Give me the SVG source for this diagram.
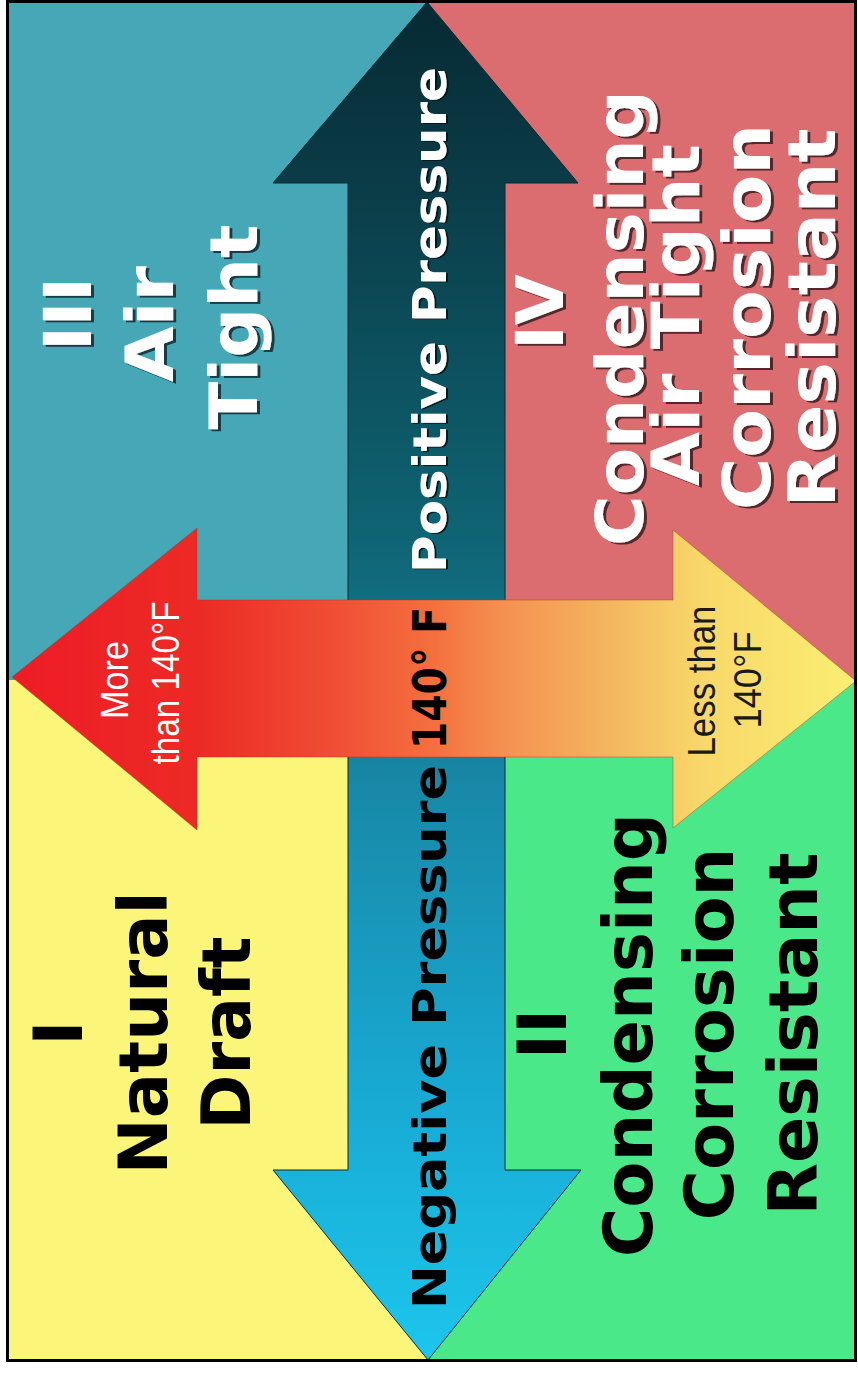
<svg xmlns="http://www.w3.org/2000/svg" width="858" height="1374" viewBox="0 0 858 1374">
  <defs>
    <linearGradient id="gVert" gradientUnits="userSpaceOnUse" x1="0" y1="2" x2="0" y2="1360">
      <stop offset="0" stop-color="#062a33"/>
      <stop offset="0.12" stop-color="#0a3a45"/>
      <stop offset="0.4" stop-color="#0f6575"/>
      <stop offset="0.58" stop-color="#1889a8"/>
      <stop offset="0.8" stop-color="#18a9d2"/>
      <stop offset="1" stop-color="#1cc6ec"/>
    </linearGradient>
    <linearGradient id="gHorz" gradientUnits="userSpaceOnUse" x1="12" y1="0" x2="856" y2="0">
      <stop offset="0" stop-color="#ee1c25"/>
      <stop offset="0.22" stop-color="#ec2a25"/>
      <stop offset="0.38" stop-color="#f04e34"/>
      <stop offset="0.5" stop-color="#f4703e"/>
      <stop offset="0.58" stop-color="#f59050"/>
      <stop offset="0.7" stop-color="#f4b35e"/>
      <stop offset="0.82" stop-color="#f8d86a"/>
      <stop offset="1" stop-color="#fbee72"/>
    </linearGradient>
    <filter id="shTeal" x="-10%" y="-10%" width="130%" height="130%">
      <feDropShadow dx="3" dy="2" stdDeviation="0.6" flood-color="#10333a" flood-opacity="0.9"/>
    </filter>
    <filter id="shPink" x="-10%" y="-10%" width="130%" height="130%">
      <feDropShadow dx="3" dy="2" stdDeviation="0.6" flood-color="#4a1c22" flood-opacity="0.9"/>
    </filter>
    <filter id="shDark" x="-10%" y="-10%" width="130%" height="130%">
      <feDropShadow dx="2" dy="1" stdDeviation="0.6" flood-color="#021518" flood-opacity="0.9"/>
    </filter>
  </defs>
  <style>
    .big { font-family: "DejaVu Sans", "Liberation Sans", sans-serif; font-weight: bold; font-size: 66px; text-anchor: middle; }
    .mid { font-family: "DejaVu Sans", "Liberation Sans", sans-serif; font-weight: bold; font-size: 47px; text-anchor: middle; }
    .small { font-family: "Liberation Sans", Arial, sans-serif; font-size: 38px; text-anchor: middle; }
    .white { fill: #ffffff; }
    .black { fill: #000000; }
  </style>

  <rect x="0" y="0" width="858" height="1374" fill="#ffffff"/>

  <g id="quadrant-III">
    <rect x="7" y="2" width="421" height="678" fill="#46a8b7"/>
  </g>
  <g id="quadrant-IV">
    <rect x="428" y="2" width="428" height="678" fill="#db6d70"/>
  </g>
  <g id="quadrant-I">
    <rect x="7" y="680" width="421" height="681" fill="#fbf679"/>
  </g>
  <g id="quadrant-II">
    <rect x="428" y="680" width="428" height="681" fill="#4be88a"/>
  </g>

  <g id="connectors">
    <polygon id="pressure-arrow" points="427,2 578,183 505,183 505,1170 581,1170 428,1360 273,1170 348,1170 348,183 273,183" fill="url(#gVert)" stroke="#0b2a30" stroke-width="1"/>
    <polygon id="temperature-arrow" points="12,677 197,528 197,600 673,600 673,530 856,681 673,828 673,757 197,757 197,830" fill="url(#gHorz)" stroke="#a0402a" stroke-opacity="0.45" stroke-width="1"/>
  </g>

  <g id="label-III" filter="url(#shTeal)" class="big white">
    <text transform="translate(91,314) rotate(-90)">III</text>
    <text transform="translate(173,324) rotate(-90)" textLength="116" lengthAdjust="spacingAndGlyphs">Air</text>
    <text transform="translate(257,327) rotate(-90)" textLength="205" lengthAdjust="spacingAndGlyphs">Tight</text>
  </g>

  <g id="label-IV" filter="url(#shPink)" class="big white">
    <text transform="translate(563,312) rotate(-90)">IV</text>
    <text transform="translate(643,318) rotate(-90)" textLength="456" lengthAdjust="spacingAndGlyphs">Condensing</text>
    <text transform="translate(699,315) rotate(-90)" textLength="342" lengthAdjust="spacingAndGlyphs">Air Tight</text>
    <text transform="translate(770,317) rotate(-90)" textLength="386" lengthAdjust="spacingAndGlyphs">Corrosion</text>
    <text transform="translate(835,318) rotate(-90)" textLength="379" lengthAdjust="spacingAndGlyphs">Resistant</text>
  </g>

  <g id="label-I" class="big black">
    <text transform="translate(82,1033) rotate(-90)" style="font-size:68px">I</text>
    <text transform="translate(167,1033) rotate(-90)" style="font-size:68px" textLength="283" lengthAdjust="spacingAndGlyphs">Natural</text>
    <text transform="translate(250,1033) rotate(-90)" style="font-size:68px" textLength="193" lengthAdjust="spacingAndGlyphs">Draft</text>
  </g>

  <g id="label-II" class="big black">
    <text transform="translate(566,1034) rotate(-90)" style="font-size:68px">II</text>
    <text transform="translate(652,1035) rotate(-90)" style="font-size:68px" textLength="444" lengthAdjust="spacingAndGlyphs">Condensing</text>
    <text transform="translate(733,1034) rotate(-90)" style="font-size:68px" textLength="373" lengthAdjust="spacingAndGlyphs">Corrosion</text>
    <text transform="translate(817,1034) rotate(-90)" style="font-size:68px" textLength="363" lengthAdjust="spacingAndGlyphs">Resistant</text>
  </g>

  <g id="label-positive" filter="url(#shDark)" class="mid white">
    <text transform="translate(446,320) rotate(-90)" textLength="506" lengthAdjust="spacingAndGlyphs">Positive Pressure</text>
  </g>
  <g id="label-140" class="mid black">
    <text transform="translate(446,678) rotate(-90)" textLength="142" lengthAdjust="spacingAndGlyphs">140° F</text>
  </g>
  <g id="label-negative" class="mid black">
    <text transform="translate(446,1037) rotate(-90)" textLength="544" lengthAdjust="spacingAndGlyphs">Negative Pressure</text>
  </g>

  <g id="label-more" class="small white">
    <text transform="translate(128,680) rotate(-90)" textLength="78" lengthAdjust="spacingAndGlyphs">More</text>
    <text transform="translate(179,683) rotate(-90)" textLength="163" lengthAdjust="spacingAndGlyphs">than 140°F</text>
  </g>
  <g id="label-less" class="small" fill="#1a1a1a">
    <text transform="translate(715,681) rotate(-90)" textLength="151" lengthAdjust="spacingAndGlyphs">Less than</text>
    <text transform="translate(761,680) rotate(-90)" textLength="97" lengthAdjust="spacingAndGlyphs">140°F</text>
  </g>

  <rect x="7.5" y="1.5" width="848" height="1359" fill="none" stroke="#000000" stroke-width="3"/>
</svg>
